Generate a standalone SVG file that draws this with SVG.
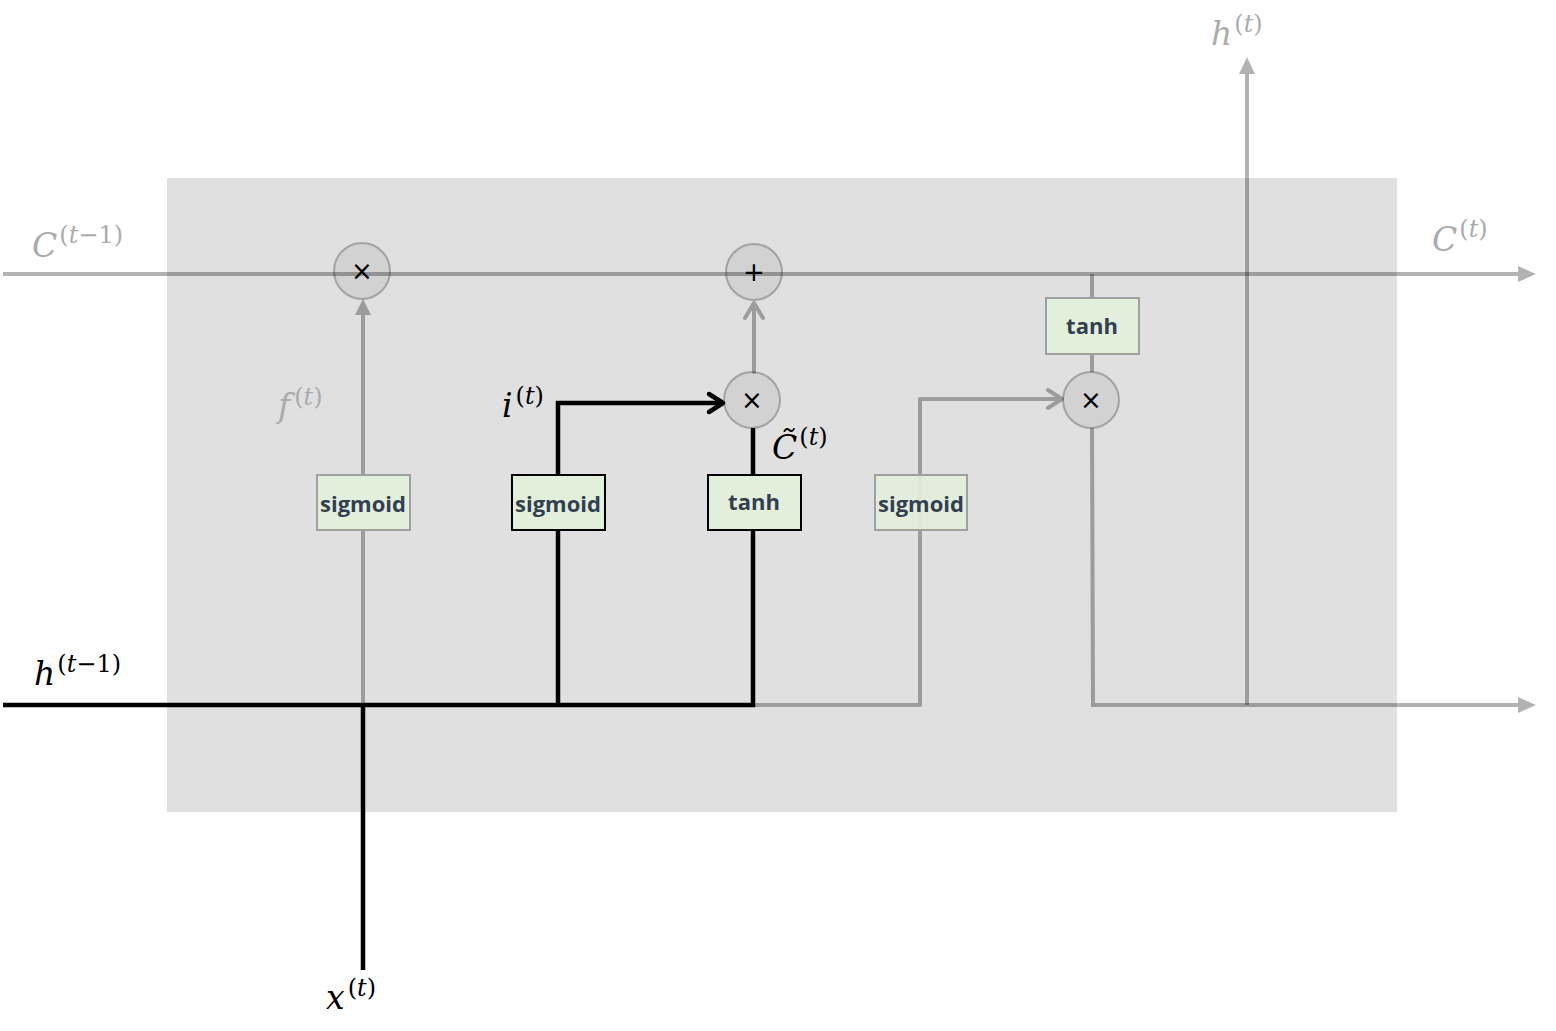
<svg xmlns="http://www.w3.org/2000/svg" width="1556" height="1031" viewBox="0 0 1556 1031">
<style>
.g{fill:none;stroke:#000;stroke-opacity:.3;stroke-width:4}
.k{fill:none;stroke:#000;stroke-width:4.5}
.gh{fill:#000;fill-opacity:.3;stroke:none}
.op{fill:#000;fill-opacity:.06;stroke:#000;stroke-opacity:.25;stroke-width:2}
.sym{font-family:"DejaVu Sans",sans-serif;font-size:26px;fill:#000;text-anchor:middle}
.box{fill:#e2efda;stroke-width:2}
.bg{stroke:#a0a0a0}
.bk{stroke:#000}
.lbl{font-family:"Open Sans",sans-serif;font-weight:bold;font-size:22px;fill:#333f50;text-anchor:middle}
.m{font-family:"DejaVu Serif",serif;font-size:33px}
.sup{font-size:24px;font-style:normal}
.it{font-style:italic}
.gt{fill:#ababab}
.bt{fill:#000}
</style>
<rect x="167" y="178" width="1230" height="634" fill="#e0e0e0"/>
<g id="connectors">
<path class="g" d="M3,274 H1518"/>
<polygon class="gh" points="1518,266 1536,274 1518,282"/>
<path class="g" d="M363,705 V315"/>
<polygon class="gh" points="355,315 363,299 371,315"/>
<path class="g" d="M754,372 V303 M745,318 L754,303 L763,318" stroke-width="5" stroke-linecap="round" stroke-linejoin="round"/>
<path class="g" d="M753,705 H920 V399 H1062 M1048,390 L1062,399 L1048,408" stroke-width="4.5" stroke-linecap="round" stroke-linejoin="round"/>
<path class="g" d="M1092,274 V372 M1092,428 L1093,705 H1518"/>
<polygon class="gh" points="1518,697 1536,705 1518,713"/>
<path class="g" d="M1247,705 V74"/>
<polygon class="gh" points="1239,74 1247,57 1255,74"/>
<path class="k" d="M3,705 H753 V428"/>
<path class="k" d="M363,705 V970"/>
<path class="k" d="M558,705 V403 H723"/>
<path class="k" d="M709,394 L723,403 L709,412" stroke-width="5" stroke-linecap="round" stroke-linejoin="round"/>
</g>
<g id="mul-forget"><circle class="op" cx="362" cy="271" r="28"/><text class="sym" x="362" y="280">×</text></g>
<g id="add-cell"><circle class="op" cx="754" cy="272" r="28"/><text class="sym" x="754" y="281">+</text></g>
<g id="mul-input"><circle class="op" cx="752" cy="400" r="28"/><text class="sym" x="752" y="409">×</text></g>
<g id="mul-output"><circle class="op" cx="1091" cy="400" r="28"/><text class="sym" x="1091" y="409">×</text></g>
<g id="sigmoid-forget"><rect class="box bg" x="317" y="475" width="93" height="55"/><text class="lbl" x="363" y="512">sigmoid</text></g>
<g id="sigmoid-input"><rect class="box bk" x="512" y="475" width="93" height="55"/><text class="lbl" x="558" y="512">sigmoid</text></g>
<g id="tanh-candidate"><rect class="box bk" x="708" y="475" width="93" height="55"/><text class="lbl" x="754" y="510">tanh</text></g>
<g id="sigmoid-output"><rect class="box bg" x="875" y="475" width="92" height="55" fill-opacity=".92"/><text class="lbl" x="921" y="512">sigmoid</text></g>
<g id="tanh-cell"><rect class="box bg" x="1046" y="298" width="93" height="56"/><text class="lbl" x="1092" y="334">tanh</text></g>
<g id="labels">
<text class="m gt" x="32" y="257"><tspan class="it">C</tspan><tspan class="sup" dx="2" dy="-14">(<tspan class="it">t</tspan>−1)</tspan></text>
<text class="m bt" x="34" y="685"><tspan class="it">h</tspan><tspan class="sup" dx="2" dy="-13">(<tspan class="it">t</tspan>−1)</tspan></text>
<text class="m gt" x="1211" y="45"><tspan class="it">h</tspan><tspan class="sup" dx="2" dy="-13">(<tspan class="it">t</tspan>)</tspan></text>
<text class="m gt" x="1432" y="251"><tspan class="it">C</tspan><tspan class="sup" dx="2" dy="-14">(<tspan class="it">t</tspan>)</tspan></text>
<text class="m gt" x="278" y="417"><tspan class="it">f</tspan><tspan class="sup" dx="4" dy="-12">(<tspan class="it">t</tspan>)</tspan></text>
<text class="m bt" x="502" y="417"><tspan class="it">i</tspan><tspan class="sup" dx="3" dy="-13">(<tspan class="it">t</tspan>)</tspan></text>
<text class="m bt" x="772" y="459"><tspan class="it">C̃</tspan><tspan class="sup" dx="2" dy="-14">(<tspan class="it">t</tspan>)</tspan></text>
<text class="m bt" x="326" y="1009"><tspan class="it">x</tspan><tspan class="sup" dx="3" dy="-13">(<tspan class="it">t</tspan>)</tspan></text>
</g>
</svg>
